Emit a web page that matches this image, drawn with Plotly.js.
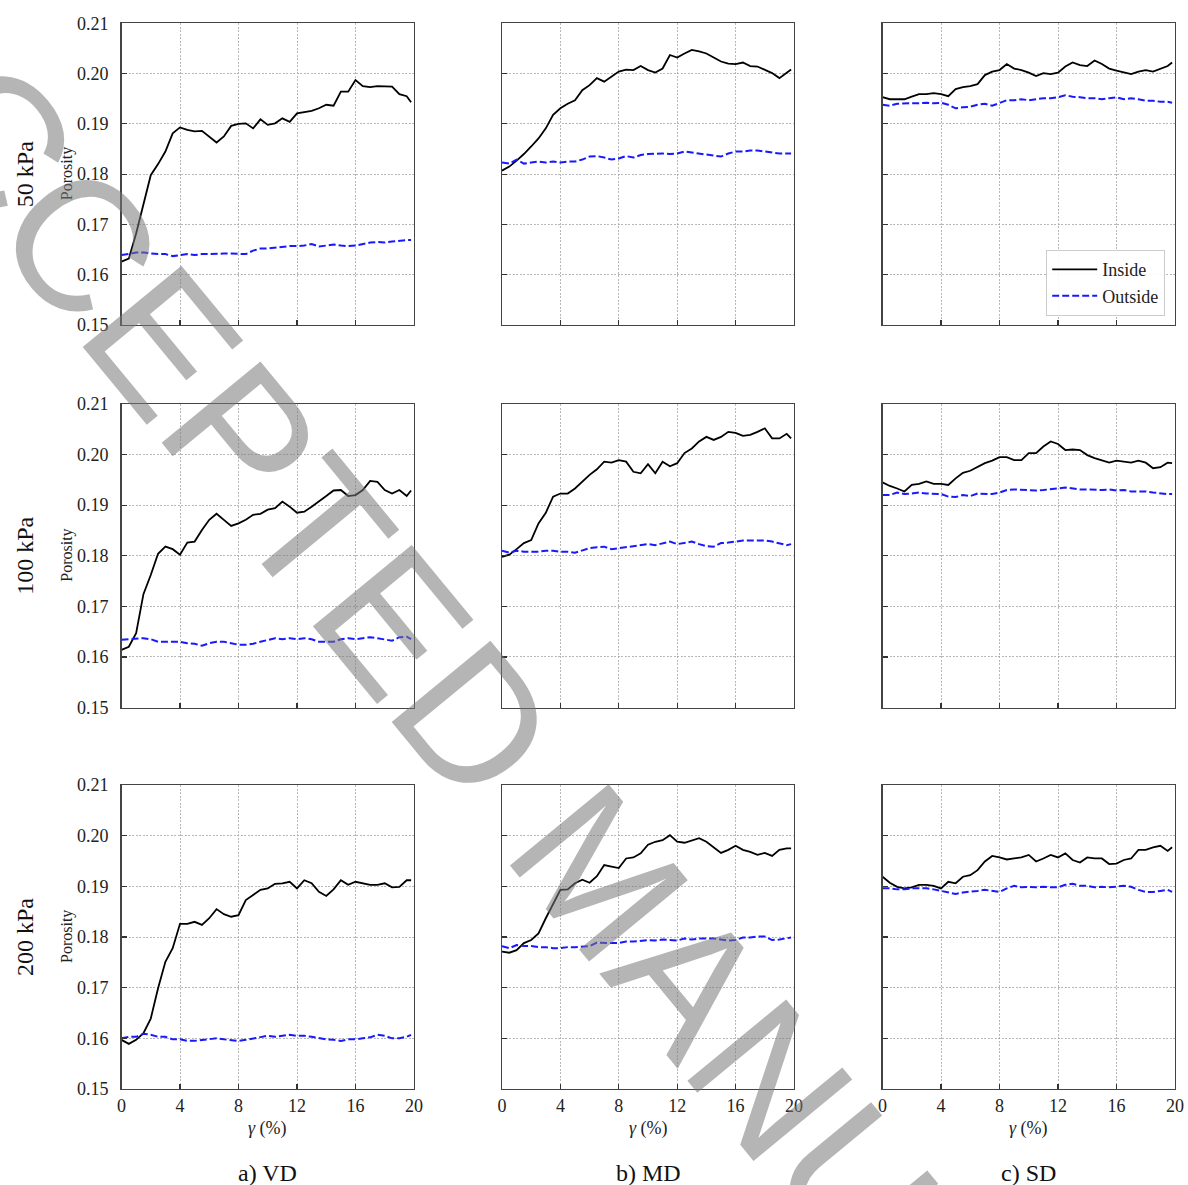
<!DOCTYPE html>
<html><head><meta charset="utf-8">
<script src="https://cdn.plot.ly/plotly-3.0.1.min.js"></script>
<style>html,body{margin:0;padding:0;background:#fff}#chart{width:1188px;height:1185px}</style>
</head><body><div id="chart"></div>
<script>
const gamma = [0,0.5,1,1.5,2,2.5,3,3.5,4,4.5,5,5.5,6,6.5,7,7.5,8,8.5,9,9.5,10,10.5,11,11.5,12,12.5,13,13.5,14,14.5,15,15.5,16,16.5,17,17.5,18,18.5,19,19.5,19.8];

const pressures = ['50 kPa','100 kPa','200 kPa'];
const columns = ['a) VD','b) MD','c) SD'];
const seriesNames = ['Inside','Outside'];
const xTicks = [0,4,8,12,16,20];
const yTicks = [0.15,0.16,0.17,0.18,0.19,0.20,0.21];

const vd50_in = [0.1626,0.1632,0.1682,0.1742,0.1798,0.1820,0.1845,0.1881,0.1893,0.1888,0.1885,0.1886,0.1875,0.1863,0.1875,0.1896,0.1900,0.1901,0.1891,0.1909,0.1898,0.1901,0.1911,0.1904,0.1921,0.1923,0.1926,0.1931,0.1938,0.1936,0.1964,0.1964,0.1987,0.1975,0.1973,0.1975,0.1974,0.1974,0.1959,0.1955,0.1943];
const vd50_out = [0.1639,0.1642,0.1644,0.1644,0.1642,0.1641,0.1641,0.1637,0.1639,0.1641,0.1639,0.1641,0.1641,0.1642,0.1642,0.1642,0.1642,0.1641,0.1648,0.1652,0.1652,0.1654,0.1656,0.1657,0.1657,0.1658,0.1661,0.1656,0.1658,0.1660,0.1658,0.1657,0.1658,0.1661,0.1664,0.1665,0.1664,0.1666,0.1668,0.1669,0.1669];
const md50_in = [0.1807,0.1815,0.1827,0.1840,0.1855,0.1871,0.1891,0.1918,0.1931,0.1940,0.1947,0.1967,0.1977,0.1991,0.1984,0.1994,0.2004,0.2008,0.2007,0.2015,0.2007,0.2002,0.2010,0.2037,0.2032,0.2040,0.2047,0.2044,0.2040,0.2032,0.2024,0.2020,0.2019,0.2022,0.2015,0.2014,0.2008,0.2001,0.1991,0.2002,0.2008];
const md50_out = [0.1823,0.1821,0.1829,0.1821,0.1823,0.1825,0.1823,0.1825,0.1823,0.1825,0.1825,0.1829,0.1835,0.1836,0.1833,0.1829,0.1831,0.1836,0.1833,0.1838,0.1840,0.1841,0.1841,0.1840,0.1841,0.1845,0.1843,0.1841,0.1840,0.1838,0.1835,0.1841,0.1845,0.1845,0.1847,0.1847,0.1845,0.1843,0.1841,0.1841,0.1841];
const sd50_in = [0.1953,0.1949,0.1949,0.1949,0.1954,0.1959,0.1959,0.1961,0.1959,0.1955,0.1969,0.1973,0.1975,0.1979,0.1997,0.2004,0.2007,0.2019,0.2010,0.2007,0.2002,0.1995,0.2001,0.1999,0.2002,0.2014,0.2022,0.2017,0.2015,0.2026,0.2019,0.2010,0.2006,0.2002,0.1999,0.2004,0.2007,0.2004,0.2010,0.2015,0.2022];
const sd50_out = [0.1938,0.1936,0.1940,0.1941,0.1941,0.1941,0.1942,0.1941,0.1942,0.1938,0.1931,0.1933,0.1934,0.1938,0.1940,0.1936,0.1941,0.1947,0.1947,0.1949,0.1947,0.1949,0.1951,0.1951,0.1953,0.1957,0.1954,0.1953,0.1951,0.1951,0.1949,0.1951,0.1953,0.1949,0.1951,0.1949,0.1946,0.1946,0.1944,0.1944,0.1942];

const vd100_in = [0.1614,0.1620,0.1647,0.1724,0.1762,0.1804,0.1818,0.1813,0.1802,0.1826,0.1828,0.1851,0.1871,0.1883,0.1871,0.1859,0.1864,0.1871,0.1881,0.1883,0.1891,0.1894,0.1907,0.1897,0.1885,0.1887,0.1897,0.1907,0.1918,0.1929,0.1930,0.1918,0.1920,0.1930,0.1948,0.1946,0.1930,0.1923,0.1930,0.1918,0.1929];
const vd100_out = [0.1634,0.1635,0.1635,0.1637,0.1635,0.1630,0.1630,0.1630,0.1630,0.1627,0.1626,0.1622,0.1627,0.1630,0.1630,0.1627,0.1624,0.1624,0.1626,0.1630,0.1634,0.1637,0.1635,0.1637,0.1635,0.1637,0.1635,0.1630,0.1630,0.1630,0.1635,0.1637,0.1635,0.1637,0.1639,0.1637,0.1635,0.1632,0.1639,0.1640,0.1635];
const md100_in = [0.1798,0.1802,0.1813,0.1825,0.1831,0.1864,0.1885,0.1917,0.1923,0.1923,0.1933,0.1947,0.1960,0.1971,0.1986,0.1984,0.1989,0.1986,0.1966,0.1963,0.1981,0.1963,0.1986,0.1977,0.1983,0.2003,0.2012,0.2026,0.2035,0.2029,0.2035,0.2045,0.2043,0.2037,0.2039,0.2045,0.2052,0.2032,0.2032,0.2041,0.2032];
const md100_out = [0.1810,0.1806,0.1810,0.1808,0.1808,0.1808,0.1810,0.1810,0.1808,0.1808,0.1806,0.1810,0.1815,0.1817,0.1818,0.1813,0.1815,0.1818,0.1819,0.1821,0.1823,0.1821,0.1825,0.1828,0.1823,0.1825,0.1828,0.1823,0.1819,0.1818,0.1825,0.1826,0.1828,0.1830,0.1830,0.1830,0.1830,0.1828,0.1825,0.1821,0.1823];
const sd100_in = [0.1945,0.1938,0.1933,0.1927,0.1940,0.1942,0.1947,0.1942,0.1942,0.1940,0.1953,0.1964,0.1968,0.1975,0.1983,0.1988,0.1995,0.1995,0.1989,0.1989,0.2003,0.2003,0.2016,0.2026,0.2021,0.2009,0.2010,0.2009,0.1999,0.1993,0.1989,0.1984,0.1988,0.1986,0.1984,0.1988,0.1984,0.1973,0.1975,0.1984,0.1983];
const sd100_out = [0.1920,0.1920,0.1925,0.1922,0.1923,0.1925,0.1923,0.1923,0.1922,0.1917,0.1916,0.1920,0.1918,0.1923,0.1923,0.1922,0.1925,0.1930,0.1931,0.1930,0.1930,0.1929,0.1930,0.1931,0.1933,0.1935,0.1933,0.1931,0.1931,0.1930,0.1930,0.1931,0.1929,0.1930,0.1927,0.1927,0.1927,0.1925,0.1923,0.1922,0.1922];

const vd200_in = [0.1597,0.1589,0.1597,0.1610,0.1639,0.1699,0.1751,0.1778,0.1826,0.1826,0.1830,0.1824,0.1837,0.1855,0.1845,0.1840,0.1843,0.1873,0.1883,0.1893,0.1896,0.1905,0.1906,0.1909,0.1896,0.1912,0.1906,0.1889,0.1881,0.1894,0.1912,0.1903,0.1909,0.1906,0.1903,0.1903,0.1906,0.1898,0.1899,0.1912,0.1912];
const vd200_out = [0.1600,0.1603,0.1603,0.1609,0.1607,0.1603,0.1603,0.1598,0.1598,0.1595,0.1595,0.1597,0.1598,0.1600,0.1598,0.1597,0.1595,0.1597,0.1600,0.1603,0.1605,0.1603,0.1605,0.1607,0.1605,0.1605,0.1603,0.1600,0.1598,0.1597,0.1595,0.1598,0.1598,0.1600,0.1602,0.1607,0.1605,0.1600,0.1600,0.1603,0.1607];
const md200_in = [0.1771,0.1769,0.1774,0.1788,0.1794,0.1807,0.1837,0.1866,0.1893,0.1894,0.1906,0.1913,0.1907,0.1920,0.1942,0.1939,0.1936,0.1955,0.1957,0.1965,0.1982,0.1988,0.1991,0.2001,0.1988,0.1986,0.1990,0.1995,0.1988,0.1977,0.1966,0.1972,0.1980,0.1972,0.1968,0.1962,0.1966,0.1960,0.1972,0.1975,0.1975];
const md200_out = [0.1782,0.1778,0.1784,0.1782,0.1782,0.1780,0.1780,0.1778,0.1778,0.1780,0.1780,0.1781,0.1782,0.1789,0.1788,0.1788,0.1788,0.1791,0.1791,0.1793,0.1794,0.1793,0.1795,0.1794,0.1793,0.1797,0.1795,0.1797,0.1797,0.1797,0.1795,0.1793,0.1794,0.1799,0.1799,0.1801,0.1801,0.1794,0.1795,0.1797,0.1799];
const sd200_in = [0.1919,0.1907,0.1899,0.1896,0.1898,0.1903,0.1903,0.1901,0.1896,0.1909,0.1906,0.1919,0.1922,0.1932,0.1949,0.1960,0.1957,0.1953,0.1955,0.1957,0.1962,0.1949,0.1955,0.1962,0.1957,0.1965,0.1952,0.1947,0.1957,0.1955,0.1955,0.1944,0.1945,0.1952,0.1955,0.1972,0.1972,0.1977,0.1980,0.1970,0.1977];
const sd200_out = [0.1896,0.1896,0.1894,0.1894,0.1896,0.1896,0.1896,0.1894,0.1891,0.1888,0.1885,0.1888,0.1889,0.1891,0.1893,0.1891,0.1889,0.1896,0.1901,0.1898,0.1899,0.1898,0.1899,0.1898,0.1898,0.1903,0.1905,0.1901,0.1901,0.1898,0.1899,0.1898,0.1899,0.1901,0.1899,0.1893,0.1889,0.1889,0.1891,0.1893,0.1889];

const insideData = [[vd50_in, md50_in, sd50_in],[vd100_in, md100_in, sd100_in],[vd200_in, md200_in, sd200_in]];
const outsideData = [[vd50_out, md50_out, sd50_out],[vd100_out, md100_out, sd100_out],[vd200_out, md200_out, sd200_out]];

const W = 1188, H = 1185;
const colPx = [[121.5,414],[502,794],[882.5,1175]];
const rowPx = [[23.3,325],[404,707.5],[785,1089]];
const serif = 'Liberation Serif, Times New Roman, serif';

const traces = [];
const layout = {
  width: W, height: H,
  margin: {l:0, r:0, t:0, b:0},
  paper_bgcolor: '#ffffff', plot_bgcolor: '#ffffff',
  font: {family: serif, color: '#222', size: 18},
  showlegend: true,
  legend: {
    x: 1165/W, y: 1 - 316/H, xanchor: 'right', yanchor: 'bottom',
    bgcolor: 'rgba(255,255,255,0.9)', bordercolor: '#cccccc', borderwidth: 1.2,
    font: {family: serif, size: 18, color: '#222'}, tracegroupgap: 0,
    itemwidth: 45
  },
  annotations: []
};

for (let r = 0; r < 3; r++) {
  for (let c = 0; c < 3; c++) {
    const k = r*3 + c + 1;
    const xa = 'x' + (k > 1 ? k : '');
    const ya = 'y' + (k > 1 ? k : '');
    traces.push({
      x: gamma, y: insideData[r][c], type: 'scatter', mode: 'lines',
      name: seriesNames[0], legendgroup: 'in', showlegend: k === 1,
      line: {color: '#000000', width: 1.8},
      xaxis: xa, yaxis: ya
    });
    traces.push({
      x: gamma, y: outsideData[r][c], type: 'scatter', mode: 'lines',
      name: seriesNames[1], legendgroup: 'out', showlegend: k === 1,
      line: {color: 'rgb(25,25,255)', width: 2, dash: '7px,3px'},
      xaxis: xa, yaxis: ya
    });
    const xName = 'xaxis' + (k > 1 ? k : '');
    const yName = 'yaxis' + (k > 1 ? k : '');
    layout[xName] = {
      domain: [colPx[c][0]/W, colPx[c][1]/W], anchor: ya,
      range: [0, 20], tickvals: xTicks, ticktext: xTicks.map(String),
      ticks: 'inside', ticklen: 5, tickwidth: 1.2, tickcolor: '#333',
      showticklabels: r === 2, ticklabelstandoff: 0,
      tickfont: {family: serif, size: 18, color: '#222'},
      showline: true, mirror: true, linecolor: '#444', linewidth: 1.3,
      showgrid: true, gridcolor: '#9a9a9a', gridwidth: 0.7, griddash: '2px,1.5px',
      zeroline: false, fixedrange: true
    };
    layout[yName] = {
      domain: [1 - rowPx[r][1]/H, 1 - rowPx[r][0]/H], anchor: xa,
      range: [0.15, 0.21], tickvals: yTicks, ticktext: yTicks.map(v => v.toFixed(2)),
      ticks: 'inside', ticklen: 5, tickwidth: 1.2, tickcolor: '#333',
      showticklabels: c === 0, ticklabelstandoff: 8,
      tickfont: {family: serif, size: 18, color: '#222'},
      showline: true, mirror: true, linecolor: '#444', linewidth: 1.3,
      showgrid: true, gridcolor: '#9a9a9a', gridwidth: 0.7, griddash: '2px,1.5px',
      zeroline: false, fixedrange: true
    };
  }
}

// Row labels and y titles
for (let r = 0; r < 3; r++) {
  const cy = (rowPx[r][0] + rowPx[r][1]) / 2;
  layout.annotations.push({
    text: pressures[r], x: 25/W, y: 1 - cy/H, xref: 'paper', yref: 'paper',
    showarrow: false, textangle: -90, xanchor: 'center', yanchor: 'middle',
    font: {family: serif, size: 24, color: '#111'}
  });
  layout.annotations.push({
    text: 'Porosity', x: 67/W, y: 1 - cy/H, xref: 'paper', yref: 'paper',
    showarrow: false, textangle: -90, xanchor: 'center', yanchor: 'middle',
    font: {family: serif, size: 16, color: '#222'}
  });
}
// Column labels and x titles
for (let c = 0; c < 3; c++) {
  const cx = (colPx[c][0] + colPx[c][1]) / 2;
  layout.annotations.push({
    text: '<i>γ</i> (%)', x: cx/W, y: 1 - 1128/H, xref: 'paper', yref: 'paper',
    showarrow: false, xanchor: 'center', yanchor: 'middle',
    font: {family: serif, size: 18, color: '#222'}
  });
  layout.annotations.push({
    text: columns[c], x: cx/W, y: 1 - 1173/H, xref: 'paper', yref: 'paper',
    showarrow: false, xanchor: 'center', yanchor: 'middle',
    font: {family: serif, size: 24, color: '#111'}
  });
}
// Watermark
layout.annotations.push({
  text: 'ACCEPTED MANUSCRIPT', x: 603/W, y: 1 - 876/H, xref: 'paper', yref: 'paper',
  showarrow: false, textangle: 50.5, xanchor: 'center', yanchor: 'middle',
  font: {family: 'Liberation Sans, Arial, sans-serif', size: 186, color: 'rgba(120,120,120,0.55)'}
});

Plotly.newPlot('chart', traces, layout, {staticPlot: true, displayModeBar: false});
</script>
</body></html>
